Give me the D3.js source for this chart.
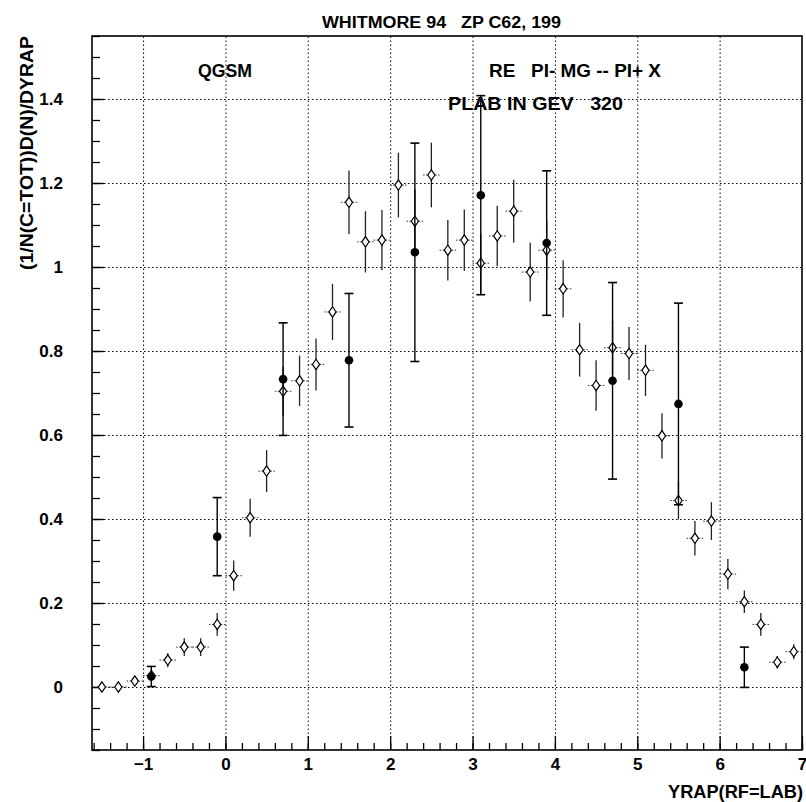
<!DOCTYPE html>
<html>
<head>
<meta charset="utf-8">
<script src="https://cdnjs.cloudflare.com/ajax/libs/d3/7.8.5/d3.min.js"></script>
<style>
	body { margin: 0; background: #fff; }
	svg { display: block; font-family: "Liberation Sans", Arial, sans-serif; }
	svg text { white-space: pre; }
	.tick text { font-size: 17px; font-weight: bold; fill: #000; }
	.grid line { stroke: #000; stroke-width: 1; stroke-dasharray: 1.5, 2.5; }
	.grid path { display: none; }
</style>
</head>
<body>
<div id="chart"></div>
<script>
// QGSM points (open diamonds)
const qgsmX = [-1.5, -1.3, -1.1, -0.9, -0.7, -0.5, -0.3, -0.1, 0.1, 0.3, 0.5, 0.7, 0.9, 1.1, 1.3, 1.5, 1.7, 1.9, 2.1, 2.3,
	2.5, 2.7, 2.9, 3.1, 3.3, 3.5, 3.7, 3.9, 4.1, 4.3, 4.5, 4.7, 4.9, 5.1, 5.3, 5.5, 5.7, 5.9, 6.1, 6.3, 6.5, 6.7, 6.9];
const qgsmY = [0.000, 0.000, 0.014, 0.027, 0.064, 0.095, 0.095, 0.149, 0.265, 0.403, 0.514, 0.704, 0.729, 0.768, 0.893, 1.154, 1.060, 1.064, 1.195, 1.109,
	1.219, 1.040, 1.064, 1.009, 1.074, 1.133, 0.988, 1.040, 0.948, 0.803, 0.718, 0.808, 0.794, 0.754, 0.598, 0.444, 0.354, 0.395, 0.269, 0.203, 0.149, 0.059, 0.084];
const qgsmErr = [0.000, 0.000, 0.008, 0.010, 0.017, 0.021, 0.021, 0.027, 0.036, 0.045, 0.050, 0.058, 0.060, 0.062, 0.067, 0.076, 0.073, 0.072, 0.077, 0.075,
	0.077, 0.072, 0.073, 0.070, 0.072, 0.075, 0.070, 0.070, 0.068, 0.064, 0.060, 0.064, 0.063, 0.061, 0.054, 0.045, 0.041, 0.045, 0.036, 0.027, 0.027, 0.015, 0.018];
const qgsmHalfBin = 0.1;

// Whitmore 94 data (filled circles)
const dataX = [-0.9, -0.1, 0.7, 1.5, 2.3, 3.1, 3.9, 4.7, 5.5, 6.3];
const dataY = [0.025, 0.358, 0.733, 0.778, 1.035, 1.171, 1.057, 0.729, 0.674, 0.047];
const dataErr = [0.024, 0.093, 0.134, 0.159, 0.260, 0.237, 0.172, 0.234, 0.240, 0.048];

// axes
const xMajorTicks = [-1, 0, 1, 2, 3, 4, 5, 6, 7];
const yMajorTicks = [0, 0.2, 0.4, 0.6, 0.8, 1, 1.2, 1.4];
const xDomain = [-1.62, 7];
const yDomain = [-0.15, 1.55];

const titleText = 'WHITMORE 94   ZP C62, 199';
const xLabel = 'YRAP(RF=LAB)';
const yLabel = '(1/N(C=TOT))D(N)/DYRAP';
const notes = ['QGSM', 'RE   PI- MG -- PI+ X', 'PLAB IN GEV   320'];

class RapidityPlot {
	constructor(_config) {
		this.config = {
			parentElement: _config.parentElement,
			width: 806,
			height: 802,
			left: 92,
			right: 802,
			top: 36,
			bottom: 750
		};
		this.initVis();
	}

	initVis() {
		let vis = this;
		const c = vis.config;
		vis.svg = d3.select(c.parentElement).append('svg')
			.attr('width', c.width)
			.attr('height', c.height);

		vis.x = d3.scaleLinear().domain(xDomain).range([c.left, c.right]);
		vis.y = d3.scaleLinear().domain(yDomain).range([c.bottom, c.top]);

		// dotted grid
		vis.svg.append('g')
			.attr('class', 'grid')
			.attr('transform', `translate(0,${c.bottom})`)
			.call(d3.axisBottom(vis.x).tickValues(d3.range(-1, 7)).tickSize(-(c.bottom - c.top)).tickFormat(''));
		vis.svg.append('g')
			.attr('class', 'grid')
			.attr('transform', `translate(${c.left},0)`)
			.call(d3.axisLeft(vis.y).tickValues(yMajorTicks).tickSize(-(c.right - c.left)).tickFormat(''));

		// minor ticks
		const xMinor = d3.range(-8, 36).map(i => i * 0.2).filter(v => v >= xDomain[0] && v <= xDomain[1]);
		const yMinor = d3.range(-3, 32).map(i => i * 0.05);
		vis.svg.append('g')
			.attr('transform', `translate(0,${c.bottom})`)
			.call(d3.axisBottom(vis.x).tickValues(xMinor).tickSize(-7).tickFormat(''))
			.call(g => g.select('.domain').remove());
		vis.svg.append('g')
			.attr('transform', `translate(${c.left},0)`)
			.call(d3.axisLeft(vis.y).tickValues(yMinor).tickSize(-8).tickFormat(''))
			.call(g => g.select('.domain').remove());

		// major ticks with labels
		vis.svg.append('g')
			.attr('transform', `translate(0,${c.bottom})`)
			.call(d3.axisBottom(vis.x).tickValues(xMajorTicks).tickSize(-14).tickPadding(8)
				.tickFormat(d => d < 0 ? '\u2212' + Math.abs(d) : String(d)))
			.call(g => g.select('.domain').remove());
		vis.svg.append('g')
			.attr('transform', `translate(${c.left},0)`)
			.call(d3.axisLeft(vis.y).tickValues(yMajorTicks).tickSize(-12).tickPadding(29)
				.tickFormat(d => String(d)))
			.call(g => g.select('.domain').remove());

		vis.svg.selectAll('.tick line').attr('stroke', '#000').attr('stroke-width', 1.3);

		// frame
		vis.svg.append('rect')
			.attr('x', c.left).attr('y', c.top)
			.attr('width', c.right - c.left).attr('height', c.bottom - c.top)
			.attr('fill', 'none').attr('stroke', '#000').attr('stroke-width', 1.6);

		// texts
		vis.svg.append('text')
			.attr('x', 322).attr('y', 28)
			.attr('font-size', 16).attr('font-weight', 'bold')
			.attr('textLength', 239).attr('lengthAdjust', 'spacingAndGlyphs')
			.text(titleText);
		vis.svg.append('text')
			.attr('x', 668).attr('y', 798)
			.attr('font-size', 18).attr('font-weight', 'bold')
			.attr('textLength', 135).attr('lengthAdjust', 'spacingAndGlyphs')
			.text(xLabel);
		vis.svg.append('text')
			.attr('transform', 'translate(33,36) rotate(-90)')
			.attr('text-anchor', 'end')
			.attr('font-size', 18).attr('font-weight', 'bold')
			.attr('textLength', 234).attr('lengthAdjust', 'spacingAndGlyphs')
			.text(yLabel);

		const notePos = [[198, 77, 54], [489, 77, 172], [448, 110, 175]];
		vis.svg.selectAll('.note')
			.data(notes)
			.join('text')
			.attr('class', 'note')
			.attr('x', (d, i) => notePos[i][0])
			.attr('y', (d, i) => notePos[i][1])
			.attr('font-size', 18)
			.attr('font-weight', 'bold')
			.attr('textLength', (d, i) => notePos[i][2])
			.attr('lengthAdjust', 'spacingAndGlyphs')
			.text(d => d);

		this.renderVis();
	}

	renderVis() {
		let vis = this;
		const qgsm = qgsmX.map((x, i) => ({ x: x, y: qgsmY[i], e: qgsmErr[i] }));
		const data = dataX.map((x, i) => ({ x: x, y: dataY[i], e: dataErr[i] }));

		const gQ = vis.svg.append('g');
		// horizontal bin marks
		gQ.selectAll('.hbar')
			.data(qgsm)
			.join('line')
			.attr('x1', d => vis.x(d.x - qgsmHalfBin))
			.attr('x2', d => vis.x(d.x + qgsmHalfBin))
			.attr('y1', d => vis.y(d.y))
			.attr('y2', d => vis.y(d.y))
			.attr('stroke', '#333')
			.attr('stroke-width', 1)
			.attr('stroke-dasharray', '1.5,1.5');
		// vertical error bars
		gQ.selectAll('.vbar')
			.data(qgsm.filter(d => d.e > 0))
			.join('line')
			.attr('x1', d => vis.x(d.x))
			.attr('x2', d => vis.x(d.x))
			.attr('y1', d => vis.y(d.y - d.e))
			.attr('y2', d => vis.y(d.y + d.e))
			.attr('stroke', '#222')
			.attr('stroke-width', 1.3);
		gQ.selectAll('.diamond')
			.data(qgsm)
			.join('path')
			.attr('d', 'M0,-5.2L3.6,0L0,5.2L-3.6,0Z')
			.attr('transform', d => `translate(${vis.x(d.x)},${vis.y(d.y)})`)
			.attr('fill', '#fff')
			.attr('stroke', '#000')
			.attr('stroke-width', 1.2);

		const gD = vis.svg.append('g');
		gD.selectAll('.ebar')
			.data(data)
			.join('line')
			.attr('x1', d => vis.x(d.x))
			.attr('x2', d => vis.x(d.x))
			.attr('y1', d => vis.y(d.y - d.e))
			.attr('y2', d => vis.y(d.y + d.e))
			.attr('stroke', '#000')
			.attr('stroke-width', 1.4);
		[-1, 1].forEach(s => {
			gD.selectAll('.cap' + (s > 0 ? 'top' : 'bot'))
				.data(data)
				.join('line')
				.attr('x1', d => vis.x(d.x) - 4.5)
				.attr('x2', d => vis.x(d.x) + 4.5)
				.attr('y1', d => vis.y(d.y + s * d.e))
				.attr('y2', d => vis.y(d.y + s * d.e))
				.attr('stroke', '#000')
				.attr('stroke-width', 1.6);
		});
		gD.selectAll('circle')
			.data(data)
			.join('circle')
			.attr('cx', d => vis.x(d.x))
			.attr('cy', d => vis.y(d.y))
			.attr('r', 4.3)
			.attr('fill', '#000');
	}
}

new RapidityPlot({ parentElement: '#chart' });
</script>
</body>
</html>
